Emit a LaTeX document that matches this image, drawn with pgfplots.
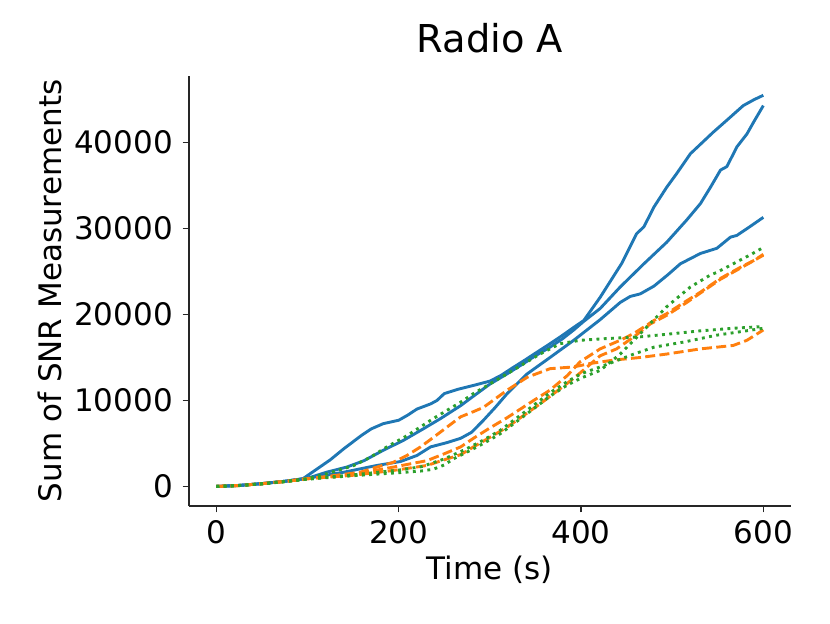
\documentclass[border=0pt]{standalone}
\usepackage{fontspec}
\setmainfont{DejaVu Sans}
\usepackage{pgfplots}
\pgfplotsset{compat=1.18}
\definecolor{tabblue}{HTML}{1F77B4}
\definecolor{taborange}{HTML}{FF7F0E}
\definecolor{tabgreen}{HTML}{2CA02C}
\definecolor{spine}{HTML}{262626}
\begin{document}
\begin{tikzpicture}
\path[use as bounding box] (-94.5pt,-58.5pt) rectangle (320.5pt,253pt);
\begin{axis}[
  at={(0,0)}, anchor=south west, scale only axis,
  width=300.85pt, height=215.15pt,
  xmin=-30, xmax=630, ymin=-2275, ymax=47775,
  axis x line*=bottom, axis y line*=left,
  axis line style={spine, line width=0.75pt},
  tick align=outside, major tick length=3.2pt,
  tick style={spine, line width=0.75pt},
  xtick={0,200,400,600}, ytick={0,10000,20000,30000,40000},
  scaled y ticks=false, scaled x ticks=false,
  /pgf/number format/1000 sep={},
  /pgf/number format/assume math mode=true,
  tick label style={font=\fontsize{15.5}{18}\selectfont, text=black, inner sep=0pt},
  xticklabel style={anchor=base, yshift=-15.45pt},
  yticklabel style={anchor=east, xshift=-4.65pt},
  title={Radio A},
  title style={font=\fontsize{19.2}{23}\selectfont, text=black, inner sep=0pt, anchor=base, at={(axis description cs:0.5,1.0249)}},
  xlabel={Time (s)}, ylabel={Sum of SNR Measurements},
  label style={font=\fontsize{15.5}{18}\selectfont, text=black, inner sep=0pt},
  xlabel style={anchor=base, at={(axis description cs:0.5,-0.1697)}},
  ylabel style={anchor=base, at={(axis description cs:-0.2111,0.5)}},
  every axis plot/.append style={line width=1.45pt, line join=round},
]
% blue solid
\addplot[tabblue] coordinates {(0,0)(25,120)(50,330)(75,600)(95,900)(110,2000)(125,3100)(140,4400)(150,5200)(160,6000)(170,6700)(183,7300)(200,7700)(210,8300)(220,9000)(235,9600)(242,10000)(250,10800)(265,11300)(282,11750)(300,12250)(312,12900)(325,13800)(337,14600)(350,15500)(366,16600)(380,17600)(392,18500)(403,19300)(421,22000)(445,26000)(461,29400)(469,30200)(480,32500)(494,34800)(505,36400)(520,38700)(534,40100)(545,41200)(560,42600)(578,44300)(590,45000)(600,45500)};
\addplot[tabblue] coordinates {(0,0)(25,120)(50,330)(75,600)(100,950)(121,1660)(143,2250)(162,3000)(183,4200)(205,5350)(227,6700)(246,7900)(268,9400)(282,10500)(300,11900)(319,13100)(337,14300)(350,15200)(366,16200)(380,17200)(392,18200)(403,19200)(421,20700)(443,23200)(469,25900)(494,28400)(516,31000)(531,32900)(542,34800)(553,36800)(560,37200)(571,39500)(582,41000)(590,42500)(600,44300)};
\addplot[tabblue] coordinates {(0,0)(25,120)(50,330)(75,600)(100,950)(140,1660)(176,2440)(202,2900)(220,3600)(235,4600)(253,5100)(268,5600)(280,6300)(293,7700)(306,9200)(319,10800)(341,13100)(366,15000)(392,17000)(421,19400)(443,21400)(454,22100)(465,22400)(480,23300)(495,24600)(509,25900)(531,27100)(549,27700)(564,29000)(571,29200)(585,30200)(600,31300)};
% orange dashed
\addplot[taborange, dash pattern=on 5pt off 2.17pt] coordinates {(0,0)(25,110)(50,320)(75,580)(100,900)(121,1150)(158,1660)(176,2250)(194,2800)(209,3600)(224,4600)(238,5700)(253,6900)(268,8100)(282,8700)(293,9200)(306,10200)(319,11200)(341,12700)(366,13700)(392,13900)(410,14300)(436,14700)(465,15000)(494,15400)(531,16000)(567,16400)(582,17000)(600,18200)};
\addplot[taborange, dash pattern=on 5pt off 2.17pt] coordinates {(0,0)(25,110)(50,320)(75,580)(100,900)(150,1400)(194,2250)(231,3000)(250,3800)(268,4600)(282,5600)(300,6800)(319,8000)(348,10000)(366,11200)(385,12900)(399,14500)(421,16000)(443,17000)(458,17800)(480,19300)(494,20100)(516,21600)(531,22600)(553,24200)(575,25500)(590,26300)(600,27000)};
\addplot[taborange, dash pattern=on 5pt off 2.17pt] coordinates {(0,0)(25,110)(50,320)(75,580)(100,900)(150,1300)(194,1860)(231,2440)(250,3100)(268,3700)(282,4600)(300,5700)(319,6900)(355,9600)(385,12000)(399,13200)(421,15200)(439,16000)(458,17400)(476,18900)(494,19900)(516,21400)(531,22500)(553,24100)(575,25400)(600,26900)};
% green dotted
\addplot[tabgreen, dash pattern=on 1.45pt off 2.2pt] coordinates {(0,0)(25,110)(50,320)(75,580)(100,900)(121,1480)(151,2440)(169,3400)(187,4600)(209,5900)(238,7900)(268,9800)(282,10800)(319,13100)(355,15400)(377,16600)(399,17000)(428,17200)(465,17400)(494,17700)(531,18100)(567,18400)(600,18600)};
\addplot[tabgreen, dash pattern=on 1.45pt off 2.2pt] coordinates {(0,0)(25,100)(50,300)(75,560)(100,850)(150,1250)(200,1600)(225,1800)(238,2000)(250,2500)(260,3200)(275,4000)(293,5000)(311,6100)(330,7600)(350,9200)(366,10500)(385,11800)(400,12600)(421,13500)(443,15400)(469,18200)(494,20900)(520,23200)(542,24600)(549,24900)(567,25900)(585,26900)(600,27800)};
\addplot[tabgreen, dash pattern=on 1.45pt off 2.2pt] coordinates {(0,0)(25,100)(50,300)(75,560)(100,850)(150,1350)(200,1900)(225,2300)(250,3200)(275,4400)(293,5400)(311,6500)(330,8000)(350,9600)(366,10900)(385,12200)(400,13100)(421,13900)(458,15400)(480,16200)(513,16800)(549,17600)(575,18000)(600,18400)};
\end{axis}
\end{tikzpicture}
\end{document}
